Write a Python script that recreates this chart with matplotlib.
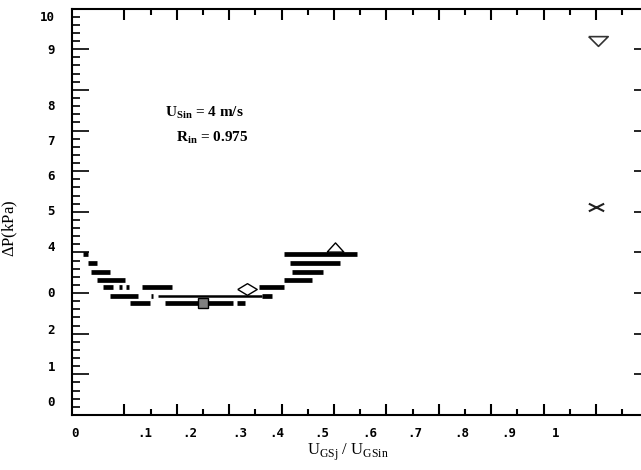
import numpy as np
import matplotlib.pyplot as plt
from matplotlib.path import Path
from matplotlib.transforms import blended_transform_factory

plt.rcParams['font.family'] = ['Liberation Serif', 'DejaVu Serif']
plt.rcParams['mathtext.fontset'] = 'custom'
plt.rcParams['mathtext.rm'] = 'Liberation Serif'
plt.rcParams['mathtext.bf'] = 'Liberation Serif:bold'

# thick horizontal bands (y level, x start, x end)
band_y = [3.95, 3.95, 3.75, 3.75, 3.53, 3.53, 3.32, 3.32,
          3.14, 3.14, 3.14, 3.14, 3.14,
          2.94, 2.94, 2.94,
          2.75, 2.75, 2.75]
band_x0 = [0.021, 0.405, 0.031, 0.416, 0.036, 0.420, 0.048, 0.405,
           0.059, 0.090, 0.103, 0.134, 0.357,
           0.073, 0.151, 0.363,
           0.111, 0.177, 0.315]
band_x1 = [0.031, 0.544, 0.048, 0.511, 0.073, 0.479, 0.101, 0.458,
           0.078, 0.095, 0.108, 0.191, 0.405,
           0.126, 0.155, 0.382,
           0.149, 0.307, 0.330]
# thinner band
thin_y = [2.94]
thin_x0 = [0.164]
thin_x1 = [0.363]

# single markers
sq_x, sq_y = [0.250], [2.76]
dia_x, dia_y = [0.334], [3.10]
tri_x, tri_y = [0.502], [4.13]
nab_x, nab_y = [1.003], [9.20]
crs_x, crs_y = [1.000], [5.12]

# tick labels as printed
xlabels = ['0', '.1', '.2', '.3', '.4', '.5', '.6', '.7', '.8', '.9', '1']
xlab_pos = [0.006, 0.139, 0.225, 0.321, 0.391, 0.477, 0.569, 0.655, 0.744, 0.834, 0.922]
ylabels = ['10', '9', '8', '7', '6', '5', '4', '0', '2', '1', '0']
ylab_pos = [9.79, 8.98, 7.58, 6.72, 5.86, 5.00, 4.13, 3.00, 2.07, 1.16, 0.30]

fig = plt.figure(figsize=(6.41, 4.70), dpi=100)
ax = fig.add_axes([72 / 641, 1 - 415 / 470, 1 - 72 / 641, (415 - 8.6) / 470])
ax.set_xlim(0, 569 / 524)
ax.set_ylim(0, 10)

ax.hlines(band_y, band_x0, band_x1, colors='black', lw=3.4)
ax.hlines(thin_y, thin_x0, thin_x1, colors='black', lw=1.8)

ax.plot(sq_x, sq_y, marker='s', ms=6.5, mfc='#808080', mec='black', mew=1, ls='none')
diamond = [(-1, 0), (0, 0.6), (1, 0), (0, -0.6), (-1, 0)]
ax.plot(dia_x, dia_y, marker=diamond, ms=14, mfc='white', mec='black', mew=1, ls='none')
tri = [(-1, -0.55), (1, -0.55), (0, 0.55), (-1, -0.55)]
ax.plot(tri_x, tri_y, marker=tri, ms=12, mfc='white', mec='black', mew=1, ls='none')
nab = [(-1, 0.5), (1, 0.5), (0, -0.5), (-1, 0.5)]
ax.plot(nab_x, nab_y, marker=nab, ms=14, mfc='white', mec='#333333', mew=1.2, ls='none')
cross = Path([(-1, -0.5), (1, 0.5), (-1, 0.5), (1, -0.5)],
             [Path.MOVETO, Path.LINETO, Path.MOVETO, Path.LINETO])
ax.plot(crs_x, crs_y, marker=cross, ms=11, mfc='none', mec='#222222', mew=1.5, ls='none')

ax.text(0.177, 7.43, r'U$_{\mathbf{Sin}}$ = 4 m/s', fontsize=11, weight='bold',
        va='center', ha='left')
ax.text(0.198, 6.82, r'R$_{\mathbf{in}}$ = 0.975', fontsize=11, weight='bold',
        va='center', ha='left')

# spines and ticks
ax.spines['right'].set_visible(False)
for s in ['left', 'top', 'bottom']:
    ax.spines[s].set_linewidth(1.5)
ax.set_xticks(np.arange(0.1, 1.01, 0.1))
ax.set_xticks(np.arange(0.15, 1.06, 0.1), minor=True)
ax.set_yticks(np.arange(1, 10, 1))
ax.set_yticks(np.arange(0.2, 10, 0.2), minor=True)
ax.tick_params(axis='x', which='major', direction='in', length=8, width=1.5,
               top=True, labelbottom=False)
ax.tick_params(axis='x', which='minor', direction='in', length=4, width=1.5, top=True)
ax.tick_params(axis='y', which='major', direction='in', length=12, width=1.2,
               labelleft=False)
ax.tick_params(axis='y', which='minor', direction='in', length=6, width=1.2)

# short ticks on the right edge
sec = ax.secondary_yaxis('right')
sec.set_yticks(np.arange(1, 10, 1))
sec.tick_params(direction='in', length=5, width=1.2, labelright=False)
sec.spines['right'].set_visible(False)

tx = blended_transform_factory(ax.transData, ax.transAxes)
for lab, p in zip(xlabels, xlab_pos):
    ax.text(p, -0.045, lab, transform=tx, ha='center', va='center',
            family='DejaVu Sans Mono', weight='bold', fontsize=9)
ty = blended_transform_factory(ax.transAxes, ax.transData)
for lab, p in zip(ylabels, ylab_pos):
    ax.text(-0.03, p, lab, transform=ty, ha='right', va='center',
            family='DejaVu Sans Mono', weight='bold', fontsize=9)

ax.set_xlabel(r'U$_{\mathrm{GSj}}$ / U$_{\mathrm{GSin}}$', fontsize=12)
ax.xaxis.set_label_coords(0.485, -0.066)
ax.set_ylabel(r'$\Delta$P(kPa)', fontsize=12)
ax.yaxis.set_label_coords(-0.091, 0.46)

fig.savefig('out.png', dpi=100)
